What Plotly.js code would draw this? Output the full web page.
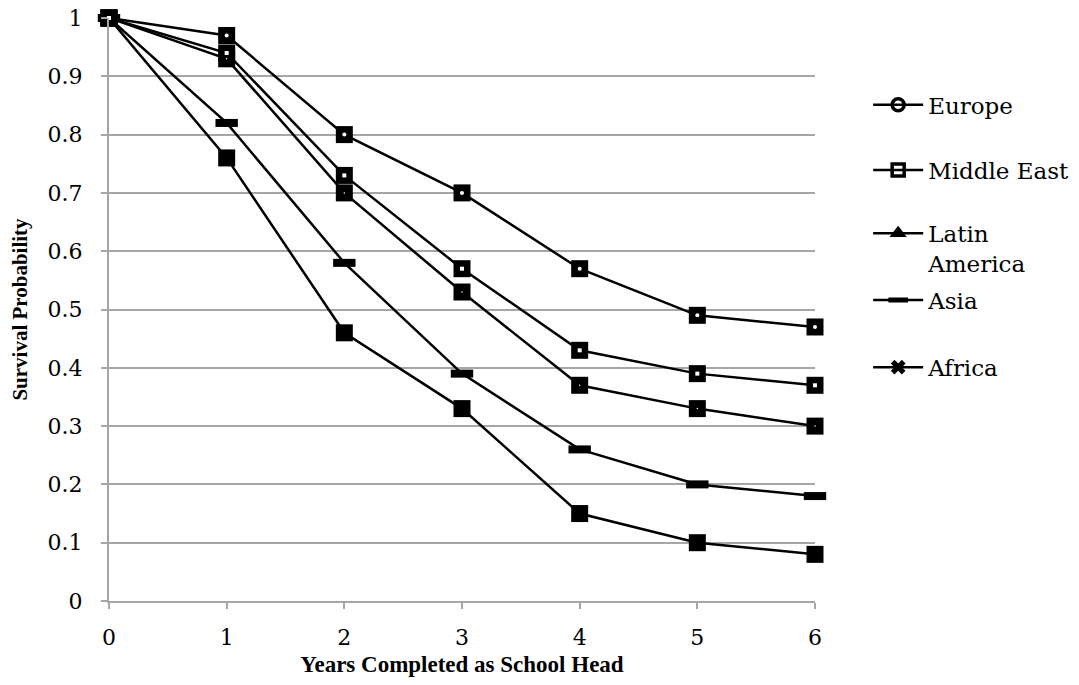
<!DOCTYPE html>
<html>
<head>
<meta charset="utf-8">
<script src="https://cdn.plot.ly/plotly-3.0.1.min.js"></script>
<style>
  html, body { margin: 0; padding: 0; background: #ffffff; }
  #chart { width: 1079px; height: 685px; }
</style>
</head>
<body>
<div id="chart"></div>
<script>
// Years completed as school head
const years = [0, 1, 2, 3, 4, 5, 6];

// Survival probability by region
const europe       = [1, 0.97, 0.80, 0.70, 0.57, 0.49, 0.47];
const middleEast   = [1, 0.94, 0.73, 0.57, 0.43, 0.39, 0.37];
const latinAmerica = [1, 0.93, 0.70, 0.53, 0.37, 0.33, 0.30];
const asia         = [1, 0.82, 0.58, 0.39, 0.26, 0.20, 0.18];
const africa       = [1, 0.76, 0.46, 0.33, 0.15, 0.10, 0.08];

const regionNames = ['Europe', 'Middle East', 'Latin<br>America', 'Asia', 'Africa'];
const yTickVals = [0, 0.1, 0.2, 0.3, 0.4, 0.5, 0.6, 0.7, 0.8, 0.9, 1];
const yTickText = ['0', '0.1', '0.2', '0.3', '0.4', '0.5', '0.6', '0.7', '0.8', '0.9', '1'];

const FONT = 'DejaVu Serif';
const TITLE_FONT = 'Liberation Serif';
const BLACK = '#000000';
const GRID = '#a6a6a6';

const seriesList = [
  { name: regionNames[0], y: europe,       plot: { symbol: 'square', size: 17 }, inner: { symbol: 'circle', size: 4 },  legendSym: { symbol: 'circle-open', size: 12, lw: 3.5 } },
  { name: regionNames[1], y: middleEast,   plot: { symbol: 'square', size: 17 }, inner: { symbol: 'square', size: 4 },  legendSym: { symbol: 'square-open', size: 12, lw: 3.5 } },
  { name: regionNames[2], y: latinAmerica, plot: { symbol: 'square', size: 17 }, inner: { symbol: 'circle', size: 1.5 }, legendSym: { symbol: 'triangle-up', size: 15, lw: 0 } },
  { name: regionNames[3], y: asia,         plot: { symbol: 'line-ew', size: 16, lw: 8 }, inner: null, legendSym: { symbol: 'line-ew', size: 14, lw: 6 } },
  { name: regionNames[4], y: africa,       plot: { symbol: 'square', size: 17 }, inner: null, legendSym: { symbol: 'x', size: 13, lw: 0 } }
];

const traces = [];

// Lines with the large black markers
seriesList.forEach(s => {
  traces.push({
    x: years, y: s.y, type: 'scatter', mode: 'lines+markers',
    name: s.name, showlegend: false, cliponaxis: false, hoverinfo: 'x+y',
    line: { color: BLACK, width: 2.5 },
    marker: {
      symbol: s.plot.symbol, size: s.plot.size, color: BLACK,
      line: { color: BLACK, width: s.plot.lw || 0 }
    }
  });
});

// Small white inner glyphs inside the markers
seriesList.forEach(s => {
  if (!s.inner) return;
  traces.push({
    x: years, y: s.y, type: 'scatter', mode: 'markers',
    showlegend: false, cliponaxis: false, hoverinfo: 'skip',
    marker: { symbol: s.inner.symbol, size: s.inner.size, color: '#ffffff', line: { width: 0 } }
  });
});

// Legend entries, each in its own legend box
const legendIds = ['legend', 'legend2', 'legend3', 'legend4', 'legend5'];
seriesList.forEach((s, i) => {
  traces.push({
    x: [null], y: [null], type: 'scatter', mode: 'lines+markers',
    name: s.name, legend: legendIds[i], showlegend: true, hoverinfo: 'skip',
    line: { color: BLACK, width: 2.5 },
    marker: {
      symbol: s.legendSym.symbol, size: s.legendSym.size, color: BLACK,
      line: { color: BLACK, width: s.legendSym.lw }
    }
  });
});

const legendY = [0.851, 0.739, 0.605, 0.516, 0.401];
const legendBase = {
  x: 1.0753, xanchor: 'left', yanchor: 'middle',
  bgcolor: 'rgba(0,0,0,0)', borderwidth: 0,
  font: { family: FONT, size: 23, color: BLACK },
  itemclick: false, itemdoubleclick: false, valign: 'top', itemwidth: 50
};

const layout = {
  width: 1079, height: 685,
  paper_bgcolor: '#ffffff', plot_bgcolor: '#ffffff',
  margin: { l: 109, r: 264, t: 18, b: 84, autoexpand: false },
  font: { family: FONT, color: BLACK },
  showlegend: true,
  xaxis: {
    range: [0, 6], tickvals: years, ticktext: years.map(String),
    showgrid: false, zeroline: false,
    showline: true, linecolor: GRID, linewidth: 2,
    ticks: 'outside', ticklen: 6, tickwidth: 2, tickcolor: GRID,
    ticklabelstandoff: 10,
    tickfont: { family: FONT, size: 22, color: BLACK },
    title: { text: '<b>Years Completed as School Head</b>', font: { family: TITLE_FONT, size: 23, color: BLACK }, standoff: 6 },
    fixedrange: true
  },
  yaxis: {
    range: [0, 1], tickvals: yTickVals, ticktext: yTickText,
    showgrid: true, gridcolor: GRID, gridwidth: 2,
    zeroline: false,
    showline: true, linecolor: GRID, linewidth: 2,
    ticks: 'outside', ticklen: 6, tickwidth: 2, tickcolor: GRID,
    ticklabelstandoff: 14,
    tickfont: { family: FONT, size: 22, color: BLACK },
    title: { text: '<b>Survival Probability</b>', font: { family: TITLE_FONT, size: 21, color: BLACK }, standoff: 14 },
    fixedrange: true
  }
};
legendIds.forEach((id, i) => {
  layout[id] = Object.assign({}, legendBase, { y: legendY[i] });
});

Plotly.newPlot('chart', traces, layout, { displayModeBar: false, responsive: false });
</script>
</body>
</html>
